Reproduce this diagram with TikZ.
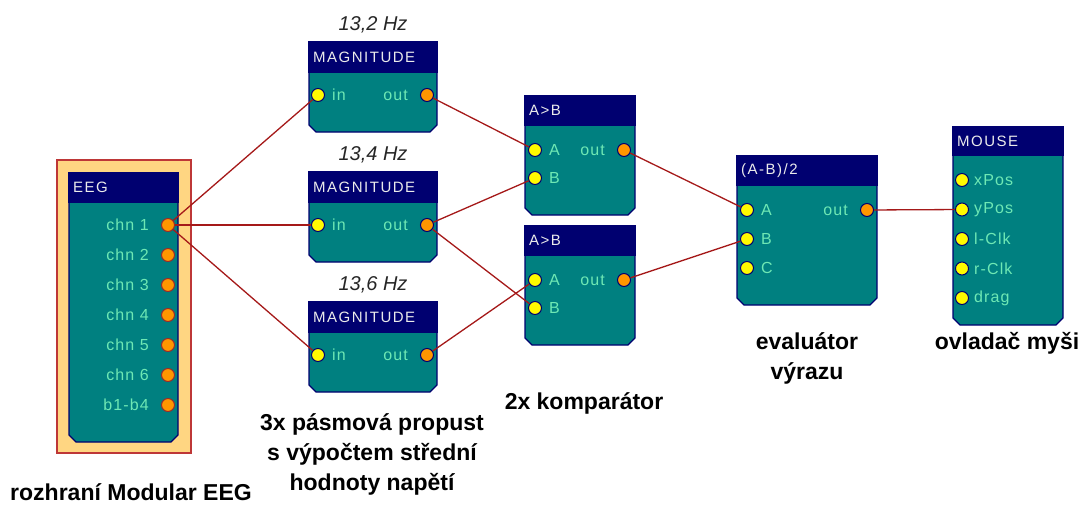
\documentclass[tikz,border=0pt]{standalone}
\usepackage{fontspec}
\setmainfont{Liberation Sans}
\newfontfamily\pixfont[LetterSpace=7]{Liberation Sans}
\newfontfamily\hdrfont[LetterSpace=10]{Liberation Sans}

\definecolor{body}{RGB}{0,128,128}
\definecolor{hdr}{RGB}{0,0,112}
\definecolor{mint}{RGB}{110,232,180}
\definecolor{porty}{RGB}{255,250,0}
\definecolor{porto}{RGB}{255,150,0}
\definecolor{wirec}{RGB}{165,25,25}
\definecolor{eegfill}{RGB}{255,214,130}
\definecolor{eegred}{RGB}{190,55,55}

% blok: jmeno, x1, y1, x2, y2, spodek hlavicky, titulek
\newcommand{\modblk}[7]{%
  \draw[blkline,fill=body] (#2,#3) -- (#4,#3) -- (#4,#5-7) -- (#4-7,#5) -- (#2+7,#5) -- (#2,#5-7) -- cycle;
  \draw[blkline,fill=hdr] (#2,#3) rectangle (#4,#6);
  \node[hdrtxt,anchor=west] (#1-t) at (#2+4,{(#3+#6)/2}) {#7};}

\begin{document}
\begin{tikzpicture}[x=1pt,y=-1pt,
  blkline/.style={draw=hdr,line width=1.3pt},
  hdrtxt/.style={text=white!92!black,font=\hdrfont\fontsize{15}{15}\selectfont,inner sep=0pt},
  inport/.style={circle,draw=hdr,fill=porty,minimum size=13pt,inner sep=0pt,line width=1pt},
  outport/.style={inport,fill=porto},
  eegport/.style={outport,draw=eegred!80!black},
  lbl/.style={text=mint,font=\pixfont\fontsize{16}{16}\selectfont,inner sep=0pt},
  inlbl/.style={lbl,anchor=west,xshift=14pt},
  outlbl/.style={lbl,anchor=east,xshift=-19pt},
  mslbl/.style={lbl,anchor=west,xshift=5pt},
  wire/.style={draw=wirec,line width=1.3pt},
  hz/.style={font=\itshape\fontsize{20}{20}\selectfont,text=black!85},
  captxt/.style={font=\bfseries\fontsize{23}{30}\selectfont,align=center}]
  \useasboundingbox (0,0) rectangle (1085,504);

  % rozhrani EEG
  \draw[draw=eegred,fill=eegfill,line width=1.3pt] (57,160) rectangle (191,453);
  \modblk{eeg}{69}{173}{178}{442}{202}{EEG}
  \foreach \i/\t in {1/chn 1,2/chn 2,3/chn 3,4/chn 4,5/chn 5,6/chn 6,7/b1-b4}{
    \node[eegport] (eeg\i) at (168,{225+30*(\i-1)}) {};
    \node[outlbl] (eeg\i-l) at (eeg\i.center) {\t};
  }

  % 3x MAGNITUDE
  \foreach \k/\y/\f in {1/42/13{,}2,2/172/13{,}4,3/302/13{,}6}{
    \modblk{mag\k}{309}{\y}{437}{\y+90}{\y+30}{MAGNITUDE}
    \node[hz] (hz\k) at (373,\y-17) {\f\ Hz};
    \node[inport] (mag\k-in) at (318,\y+53) {};
    \node[outport] (mag\k-out) at (427,\y+53) {};
    \node[inlbl] (mag\k-inl) at (mag\k-in.center) {in};
    \node[outlbl] (mag\k-outl) at (mag\k-out.center) {out};
  }

  % 2x A>B
  \foreach \k/\y in {1/96,2/226}{
    \modblk{cmp\k}{525}{\y}{635}{\y+119}{\y+29}{A>B}
    \node[inport] (cmp\k-a) at (535,\y+54) {};
    \node[inport] (cmp\k-b) at (535,\y+82) {};
    \node[outport] (cmp\k-out) at (624,\y+54) {};
    \node[inlbl] (cmp\k-al) at (cmp\k-a.center) {A};
    \node[inlbl] (cmp\k-bl) at (cmp\k-b.center) {B};
    \node[outlbl] (cmp\k-outl) at (cmp\k-out.center) {out};
  }

  % (A-B)/2
  \modblk{ev}{737}{156}{877}{305}{185}{(A-B)/2}
  \node[inport] (ev-a) at (747,210) {};
  \node[inport] (ev-b) at (747,239) {};
  \node[inport] (ev-c) at (747,268) {};
  \node[outport] (ev-out) at (867,210) {};
  \node[inlbl] (ev-al) at (ev-a.center) {A};
  \node[inlbl] (ev-bl) at (ev-b.center) {B};
  \node[inlbl] (ev-cl) at (ev-c.center) {C};
  \node[outlbl] (ev-outl) at (ev-out.center) {out};

  % MOUSE
  \modblk{ms}{953}{127}{1063}{325}{155}{MOUSE}
  \foreach \i/\t in {1/xPos,2/yPos,3/l-Clk,4/r-Clk,5/drag}{
    \node[inport] (ms\i) at (962,{180+29.5*(\i-1)}) {};
    \node[mslbl] (ms\i-l) at (ms\i.east) {\t};
  }

  % spoje
  \foreach \k in {1,2,3} \draw[wire] (eeg1) -- (mag\k-in);
  \draw[wire] (mag1-out) -- (cmp1-a);
  \draw[wire] (mag2-out) -- (cmp1-b);
  \draw[wire] (mag2-out) -- (cmp2-b);
  \draw[wire] (mag3-out) -- (cmp2-a);
  \draw[wire] (cmp1-out) -- (ev-a);
  \draw[wire] (cmp2-out) -- (ev-b);
  \draw[wire] (ev-out) -- (ms2);

  % popisky
  \node[captxt] (c-eeg) at (131,492) {rozhraní Modular EEG};
  \node[captxt] (c-mag) at (372,454) {3x pásmová propust\\s výpočtem střední\\hodnoty napětí};
  \node[captxt] (c-cmp) at (584,403) {2x komparátor};
  \node[captxt] (c-ev) at (807,358) {evaluátor\\výrazu};
  \node[captxt] (c-ms) at (1007,343) {ovladač myši};
\end{tikzpicture}
\end{document}
